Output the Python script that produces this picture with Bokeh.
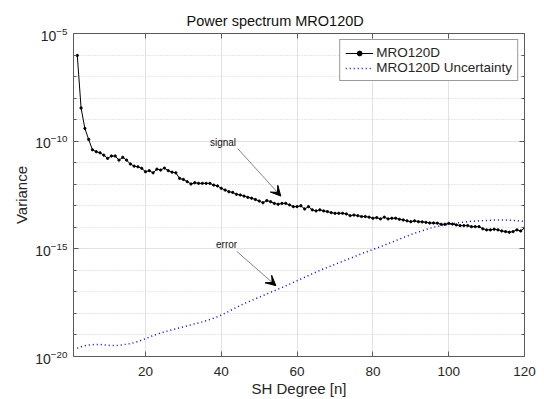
from bokeh.plotting import figure
from bokeh.models import (Range1d, FixedTicker, LogAxis, LinearAxis, Legend, LegendItem,
                          Arrow, VeeHead, Label, CustomJSTickFormatter, LogTickFormatter)
from bokeh.embed import file_html
from bokeh.resources import INLINE

# ---------------- data ----------------
degrees = list(range(2, 121))

# log10 of the signal variance, degree 2..120
signal_log10 = [
    -6.02, -8.46, -9.41, -9.92, -10.40, -10.49, -10.54, -10.65, -10.80, -10.69,
    -10.69, -10.88, -10.75, -10.88, -11.06, -11.16, -11.19, -11.26, -11.42, -11.37,
    -11.47, -11.30, -11.34, -11.25, -11.37, -11.44, -11.47, -11.73, -11.78, -11.88,
    -11.99, -11.93, -11.96, -11.96, -11.96, -11.96, -12.04, -12.08, -12.19, -12.27,
    -12.35, -12.38, -12.47, -12.50, -12.55, -12.61, -12.65, -12.71, -12.78, -12.86,
    -12.76, -12.81, -12.89, -12.93, -12.89, -12.89, -12.96, -13.04, -13.04, -13.00,
    -13.15, -13.04, -13.19, -13.24, -13.19, -13.24, -13.27, -13.32, -13.35, -13.35,
    -13.35, -13.38, -13.46, -13.43, -13.46, -13.50, -13.50, -13.53, -13.58, -13.55,
    -13.61, -13.53, -13.61, -13.58, -13.58, -13.63, -13.66, -13.70, -13.74, -13.70,
    -13.74, -13.75, -13.77, -13.80, -13.80, -13.81, -13.86, -13.86, -13.82, -13.85,
    -13.89, -13.92, -13.92, -13.92, -13.97, -13.97, -13.97, -14.07, -14.12, -14.12,
    -14.09, -14.12, -14.17, -14.20, -14.23, -14.20, -14.12, -14.17, -14.03,
]

# log10 of the error (uncertainty) variance, degree 2..120
error_log10 = [
    -19.62, -19.55, -19.50, -19.47, -19.45, -19.44, -19.44, -19.46, -19.48, -19.49,
    -19.49, -19.48, -19.46, -19.43, -19.40, -19.36, -19.31, -19.24, -19.17, -19.10,
    -19.03, -18.97, -18.91, -18.86, -18.81, -18.76, -18.72, -18.67, -18.63, -18.58,
    -18.53, -18.48, -18.44, -18.39, -18.34, -18.28, -18.22, -18.15, -18.07, -17.99,
    -17.90, -17.81, -17.72, -17.63, -17.55, -17.47, -17.40, -17.32, -17.25, -17.17,
    -17.10, -17.02, -16.95, -16.87, -16.80, -16.72, -16.64, -16.56, -16.48, -16.40,
    -16.32, -16.24, -16.16, -16.08, -16.00, -15.93, -15.86, -15.79, -15.72, -15.65,
    -15.58, -15.51, -15.44, -15.37, -15.30, -15.23, -15.16, -15.10, -15.03, -14.96,
    -14.90, -14.83, -14.76, -14.69, -14.62, -14.55, -14.48, -14.41, -14.34, -14.28,
    -14.22, -14.16, -14.10, -14.05, -14.00, -13.96, -13.92, -13.89, -13.86, -13.83,
    -13.80, -13.78, -13.76, -13.74, -13.72, -13.71, -13.70, -13.69, -13.68, -13.67,
    -13.66, -13.66, -13.66, -13.66, -13.67, -13.68, -13.69, -13.71, -13.73,
]

signal = [10.0 ** v for v in signal_log10]
error = [10.0 ** v for v in error_log10]

x_ticks = [20, 40, 60, 80, 100, 120]
y_ticks = [1e-20, 1e-15, 1e-10, 1e-5]
y_minor = [10.0 ** -k for k in range(6, 20)]

series_names = ["MRO120D", "MRO120D Uncertainty"]

FONT = "Liberation Sans"
TXT = "#262626"
AX = "#5a5a5a"

p = figure(width=544, height=399, x_range=Range1d(1, 120), y_range=Range1d(1e-20, 1e-5),
           y_axis_type="log", output_backend="svg", toolbar_location=None,
           min_border_left=73, min_border_right=20, min_border_top=33, min_border_bottom=42,
           title="Power spectrum MRO120D", background_fill_color="white",
           border_fill_color="white")
p.outline_line_color = None

p.title.text_font = FONT
p.title.text_font_size = "14.5px"
p.title.text_font_style = "normal"
p.title.text_color = "#111111"
p.title.align = "left"
p.title.offset = 113

xt = FixedTicker(ticks=x_ticks)
yt = FixedTicker(ticks=y_ticks, minor_ticks=y_minor)
blank = CustomJSTickFormatter(code="return ''")

xa = p.xaxis[0]
ya = p.yaxis[0]
xa.ticker = xt
ya.ticker = yt
ya.formatter = LogTickFormatter()
xa.axis_label = "SH Degree [n]"
ya.axis_label = "Variance"

for ax in (xa, ya):
    ax.major_tick_in = 5
    ax.major_tick_out = 0
    ax.minor_tick_in = 3
    ax.minor_tick_out = 0
    ax.axis_line_color = AX
    ax.major_tick_line_color = AX
    ax.minor_tick_line_color = AX
    ax.major_label_text_font = FONT
    ax.major_label_text_font_size = "13.5px"
    ax.major_label_text_color = TXT
    ax.axis_label_text_font = FONT
    ax.axis_label_text_font_size = "15px"
    ax.axis_label_text_font_style = "normal"
    ax.axis_label_text_color = TXT
ya.major_label_text_font_size = "14px"
xa.major_label_standoff = 10
xa.axis_label_standoff = 1
ya.major_label_standoff = 6
ya.axis_label_standoff = 2

top_ax = LinearAxis(ticker=xt, formatter=blank, major_tick_in=5, major_tick_out=0,
                    axis_line_color=AX, major_tick_line_color=AX, major_label_standoff=0)
right_ax = LogAxis(ticker=yt, formatter=blank, major_tick_in=5, major_tick_out=0,
                   minor_tick_in=3, minor_tick_out=0, axis_line_color=AX,
                   major_tick_line_color=AX, minor_tick_line_color=AX, major_label_standoff=0)
p.add_layout(top_ax, "above")
p.add_layout(right_ax, "right")

p.xgrid[0].ticker = xt
p.xgrid[0].grid_line_color = "#e2e2e2"
p.ygrid[0].ticker = yt
p.ygrid[0].grid_line_color = "#e2e2e2"
p.ygrid[0].minor_grid_line_color = "#cfcfcf"
p.ygrid[0].minor_grid_line_dash = "1 2"

err_r = p.line(degrees, error, line_color="#0000ff", line_width=1.5, line_dash="1 3")
sig_l = p.line(degrees, signal, line_color="black", line_width=1.0)
sig_d = p.scatter(degrees, signal, size=2.3, color="black")

legend = Legend(items=[LegendItem(label=series_names[0], renderers=[sig_l, sig_d]),
                       LegendItem(label=series_names[1], renderers=[err_r])],
                location="top_right", margin=6, padding=5, spacing=0,
                label_height=12, glyph_height=12, glyph_width=28, label_standoff=3,
                label_text_font=FONT, label_text_font_size="13.5px", label_text_color=TXT,
                border_line_color="#333333", border_line_width=1,
                background_fill_color="white", background_fill_alpha=1.0)
p.add_layout(legend, "center")

# annotations
p.add_layout(Label(x=37.0, y=10 ** -10.05, text="signal", text_font=FONT, text_font_size="10px",
                   text_baseline="middle", text_color="#111111"))
p.add_layout(Arrow(x_start=44.3, y_start=10 ** -10.34, x_end=55.7, y_end=10 ** -12.55,
                   line_color="#333333", line_width=0.6,
                   end=VeeHead(size=10, fill_color="black", line_color="black")))
p.add_layout(Label(x=38.6, y=10 ** -14.81, text="error", text_font=FONT, text_font_size="10px",
                   text_baseline="middle", text_color="#111111"))
p.add_layout(Arrow(x_start=44.1, y_start=10 ** -15.12, x_end=54.4, y_end=10 ** -16.71,
                   line_color="#333333", line_width=0.6,
                   end=VeeHead(size=10, fill_color="black", line_color="black")))

open("out.html", "w").write(file_html(p, INLINE))
